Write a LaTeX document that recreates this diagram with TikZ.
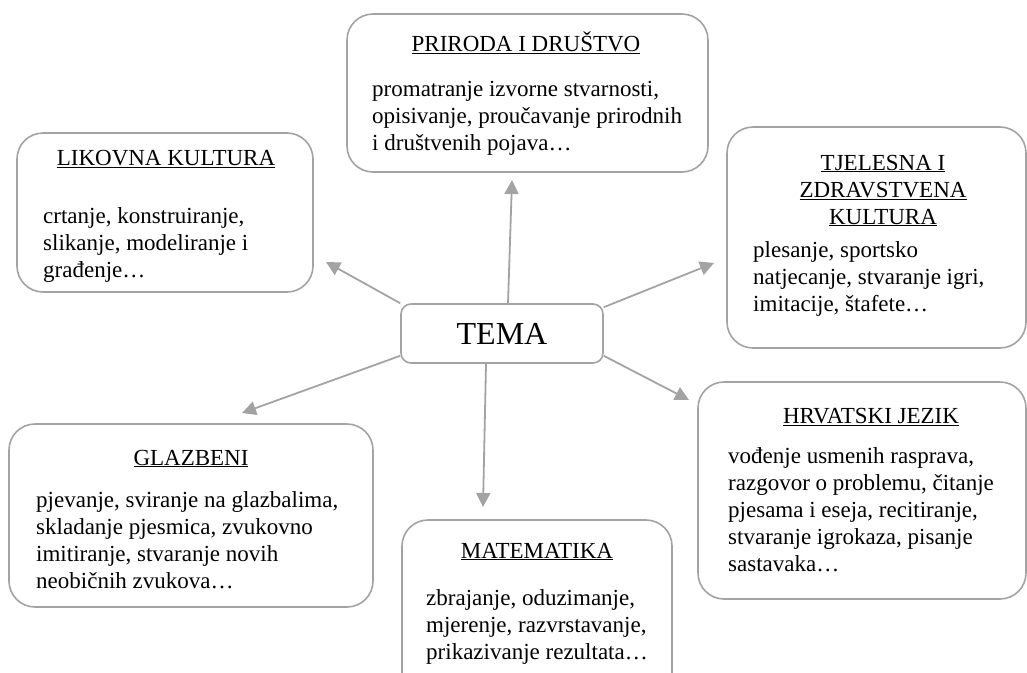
\documentclass[tikz,border=0pt]{standalone}
\usepackage{fontspec}
\setmainfont{Liberation Serif}
\usetikzlibrary{positioning,arrows.meta}
\definecolor{rimgray}{HTML}{A3A3A3}
\begin{document}
\begin{tikzpicture}[x=1pt,y=-1pt,
  box/.style={draw=rimgray,line width=1.6pt,rounded corners=26pt,inner sep=0pt},
  head/.style={inner sep=0pt,anchor=base,align=center,font=\fontsize{23}{27}\selectfont},
  body/.style={inner sep=0pt,anchor=base west,align=left,font=\fontsize{23}{27}\selectfont},
  arr/.style={-{Triangle[length=14pt,width=14pt]},draw=rimgray,fill=rimgray,line width=1.8pt}]
  \useasboundingbox (0,0) rectangle (1027,672);
  % subject boxes around the central theme (pixel grid, y downwards; text at last baseline)
  \node[box,minimum width=296pt,minimum height=159pt] (likovna) at (165,212.5) {};
  \node[box,minimum width=361pt,minimum height=158pt] (priroda) at (527.5,93) {};
  \node[box,minimum width=299pt,minimum height=221pt] (tjelesna) at (876.5,237.5) {};
  \node[box,minimum width=328pt,minimum height=217pt] (hrvatski) at (862,490.5) {};
  \node[box,minimum width=364pt,minimum height=183pt] (glazbeni) at (191,515.5) {};
  \node[box,minimum width=270pt,minimum height=180pt] (matematika) at (537,610) {};
  \node[box,rounded corners=10pt,minimum width=202pt,minimum height=59pt,font=\fontsize{32}{38}\selectfont] (tema) at (502,333.5) {TEMA};

  \node[head] (likovnaH) at (166,165) {\underline{LIKOVNA KULTURA}};
  \node[body] (likovnaT) at (43,277) {crtanje, konstruiranje,\\slikanje, modeliranje i\\građenje…};
  \node[head] (prirodaH) at (526,51) {\underline{PRIRODA I DRUŠTVO}};
  \node[body] (prirodaT) at (372,150) {promatranje izvorne stvarnosti,\\opisivanje, proučavanje prirodnih\\i društvenih pojava…};
  \node[head] (tjelesnaH) at (883,224) {\underline{TJELESNA I}\\\underline{ZDRAVSTVENA}\\\underline{KULTURA}};
  \node[body] (tjelesnaT) at (753,311) {plesanje, sportsko\\natjecanje, stvaranje igri,\\imitacije, štafete…};
  \node[head] (hrvatskiH) at (871,423) {\underline{HRVATSKI JEZIK}};
  \node[body] (hrvatskiT) at (728,571) {vođenje usmenih rasprava,\\razgovor o problemu, čitanje\\pjesama i eseja, recitiranje,\\stvaranje igrokaza, pisanje\\sastavaka…};
  \node[head] (glazbeniH) at (191,465) {\underline{GLAZBENI}};
  \node[body] (glazbeniT) at (36,588) {pjevanje, sviranje na glazbalima,\\skladanje pjesmica, zvukovno\\imitiranje, stvaranje novih\\neobičnih zvukova…};
  \node[head] (matematikaH) at (537,558) {\underline{MATEMATIKA}};
  \node[body] (matematikaT) at (426,659) {zbrajanje, oduzimanje,\\mjerenje, razvrstavanje,\\prikazivanje rezultata…};

  \coordinate (tipLik) at (326,262);
  \coordinate (tipPri) at (512,180);
  \coordinate (tipTje) at (714,263);
  \coordinate (tipHrv) at (689,400);
  \coordinate (tipGla) at (242,413);
  \coordinate (tipMat) at (483,507);
  \draw[arr] (tema.north west) -- (tipLik);
  \draw[arr] ([xshift=6pt]tema.north) -- (tipPri);
  \draw[arr] ([yshift=-4pt]tema.north east) -- (tipTje);
  \draw[arr] ([yshift=8pt]tema.south east) -- (tipHrv);
  \draw[arr] ([yshift=8pt]tema.south west) -- (tipGla);
  \draw[arr] ([xshift=-16pt]tema.south) -- (tipMat);
\end{tikzpicture}
\end{document}
